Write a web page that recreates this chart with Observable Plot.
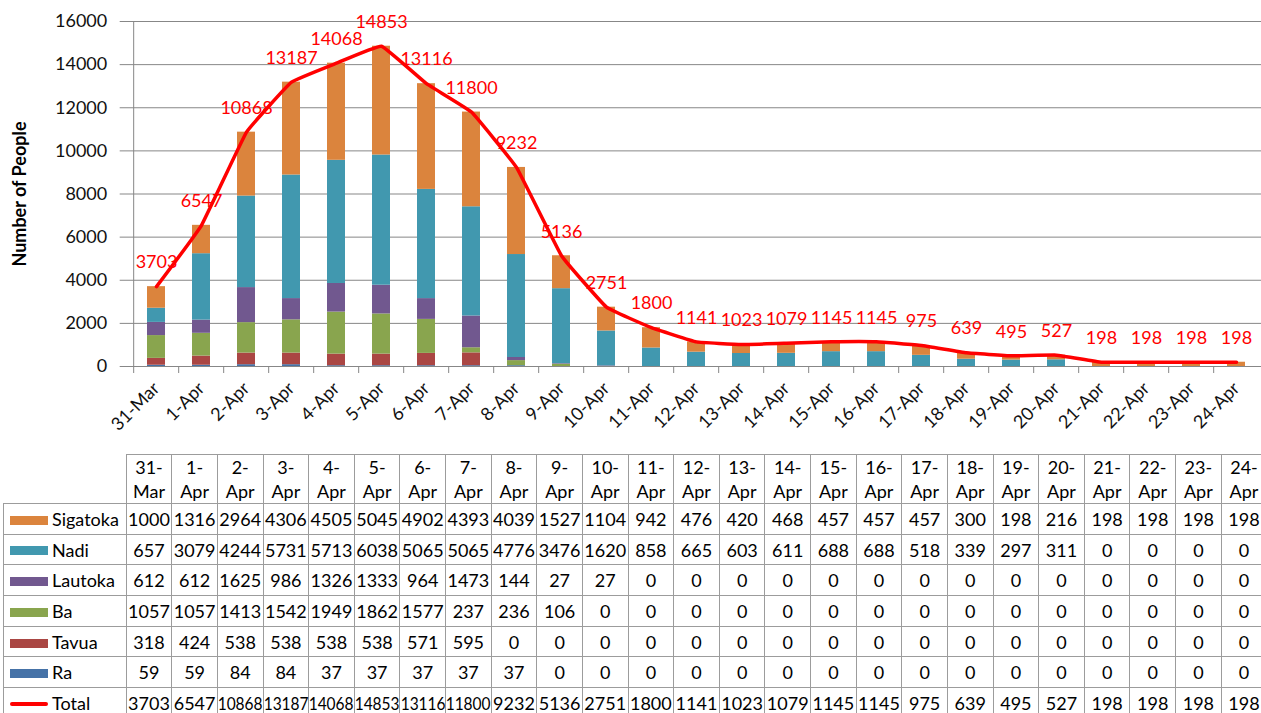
<!DOCTYPE html>
<html><head><meta charset="utf-8">
<script src="https://cdn.jsdelivr.net/npm/d3@7"></script>
<script src="https://cdn.jsdelivr.net/npm/@observablehq/plot@0.6"></script>
<style>
html,body{margin:0;padding:0;background:#fff;overflow:hidden;width:1261px;height:713px;}
#wrap{position:relative;width:1261px;height:713px;overflow:hidden;font-family:Lato,sans-serif;}
#chart{position:absolute;left:0;top:0;}
table{position:absolute;left:3px;top:454px;border-collapse:collapse;table-layout:fixed;font-family:Lato,sans-serif;font-size:18px;color:#000;}
td{border:1px solid #9c9c9c;padding:0;text-align:center;white-space:nowrap;overflow:visible;box-sizing:border-box;}
td .c{display:flex;justify-content:center;width:100%;}
td .c span{display:inline-block;}
td .c span.narrow{transform:scaleX(0.86);}
tr.head td{height:48px;line-height:24px;}
tr.row td{height:30.7px;line-height:20px;}
td.blank{border-top:none;border-left:none;}
td.leg{text-align:left;}
.sw{display:inline-block;width:38px;height:9px;margin:0 4px 0 6px;vertical-align:middle;position:relative;top:-1px;}
.sw.line{height:4px;border-radius:2px;}
</style></head>
<body><div id="wrap"><div id="chart"></div></div>
<script>
// ---- data ----
const days = ["31-Mar","1-Apr","2-Apr","3-Apr","4-Apr","5-Apr","6-Apr","7-Apr","8-Apr","9-Apr","10-Apr","11-Apr","12-Apr","13-Apr","14-Apr","15-Apr","16-Apr","17-Apr","18-Apr","19-Apr","20-Apr","21-Apr","22-Apr","23-Apr","24-Apr"];
const sigatoka = [1000,1316,2964,4306,4505,5045,4902,4393,4039,1527,1104,942,476,420,468,457,457,457,300,198,216,198,198,198,198];
const nadi     = [657,3079,4244,5731,5713,6038,5065,5065,4776,3476,1620,858,665,603,611,688,688,518,339,297,311,0,0,0,0];
const lautoka  = [612,612,1625,986,1326,1333,964,1473,144,27,27,0,0,0,0,0,0,0,0,0,0,0,0,0,0];
const ba       = [1057,1057,1413,1542,1949,1862,1577,237,236,106,0,0,0,0,0,0,0,0,0,0,0,0,0,0,0];
const tavua    = [318,424,538,538,538,538,571,595,0,0,0,0,0,0,0,0,0,0,0,0,0,0,0,0,0];
const ra       = [59,59,84,84,37,37,37,37,37,0,0,0,0,0,0,0,0,0,0,0,0,0,0,0,0];
const total    = [3703,6547,10868,13187,14068,14853,13116,11800,9232,5136,2751,1800,1141,1023,1079,1145,1145,975,639,495,527,198,198,198,198];
const seriesNames = ["Ra","Tavua","Ba","Lautoka","Nadi","Sigatoka"];
const seriesValues = [ra,tavua,ba,lautoka,nadi,sigatoka];
const yTicks = [0,2000,4000,6000,8000,10000,12000,14000,16000];
const yTitle = "Number of People";
const totalName = "Total";

// ---- styles ----
const seriesColors = ["#4572A7","#AA4643","#89A54E","#71588F","#4198AF","#DB843D"];
const lineColor = "#ff0000";
const gridColor = "#878787";
const X0 = 125.7, X1 = 1266.7;
const step = (X1 - X0) / days.length;

const long = seriesNames.flatMap((n, j) => days.map((d, i) => ({day: d, series: n, value: seriesValues[j][i]})));
const totals = days.map((d, i) => ({day: d, total: total[i]}));

const chart = Plot.plot({
  width: 1261, height: 450,
  marginTop: 21, marginBottom: 84, marginLeft: X0, marginRight: 0,
  style: {fontFamily: "Lato, sans-serif", background: "#fff", overflow: "visible"},
  x: {domain: days, range: [X0, X1], paddingInner: 0.6, paddingOuter: 0.3, label: null},
  y: {domain: [0, 16000], label: null},
  color: {domain: seriesNames, range: seriesColors},
  marks: [
    Plot.gridY(yTicks, {stroke: gridColor, strokeOpacity: 1, strokeWidth: 1, insetLeft: -6}),
    Plot.ruleX([days[0]], {x: d => d, dx: -step / 2, stroke: gridColor, strokeWidth: 1}),
    Plot.axisX(days, {tickSize: 7, tickFormat: () => "", dx: -step / 2, stroke: gridColor, label: null}),
    Plot.axisY(yTicks, {tickSize: 0, tickPadding: 19, fontSize: 18, fill: "#111", label: null, tickFormat: d => String(d)}),
    Plot.axisX(days, {tickSize: 0, tickPadding: 19, tickRotate: -45, fontSize: 18, fill: "#111", label: null}),
    Plot.barY(long, {x: "day", y: "value", fill: "series"}),
    Plot.lineY(totals, {x: "day", y: "total", stroke: lineColor, strokeWidth: 3.5, curve: "cardinal", tension: 0.75}),
    Plot.text(totals, {x: "day", y: "total", text: d => String(d.total), dy: -24, fill: lineColor, fontSize: 18}),
    Plot.text([yTitle], {text: d => d, frameAnchor: "left", dx: -106, rotate: -90, textAnchor: "middle", fontWeight: "bold", fontSize: 18, fill: "#000"})
  ]
});
document.getElementById("chart").appendChild(chart);

// ---- data table ----
const wrap = d3.select("#wrap");
const table = wrap.append("table");
const firstW = X0 - 3;
table.style("width", (firstW + step * days.length) + "px");
const cg = table.append("colgroup");
cg.append("col").style("width", firstW + "px");
days.forEach(() => cg.append("col").style("width", step + "px"));
const head = table.append("tr").attr("class", "head");
head.append("td").attr("class", "blank");
days.forEach(d => {
  const [a, b] = d.split("-");
  head.append("td").html(`${a}-<br>${b}`);
});
function valueCell(tr, v) {
  const s = String(v);
  tr.append("td").append("div").attr("class", "c").append("span")
    .attr("class", s.length >= 5 ? "narrow" : null).text(s);
}
const rowsTop = ["Sigatoka","Nadi","Lautoka","Ba","Tavua","Ra"];
rowsTop.forEach(name => {
  const j = seriesNames.indexOf(name);
  const tr = table.append("tr").attr("class", "row");
  const lc = tr.append("td").attr("class", "leg");
  lc.append("span").attr("class", "sw").style("background", seriesColors[j]);
  lc.append("span").text(name);
  seriesValues[j].forEach(v => valueCell(tr, v));
});
const trT = table.append("tr").attr("class", "row");
const lt = trT.append("td").attr("class", "leg");
lt.append("span").attr("class", "sw line").style("background", lineColor);
lt.append("span").text(totalName);
total.forEach(v => valueCell(trT, v));
</script>
</body></html>
